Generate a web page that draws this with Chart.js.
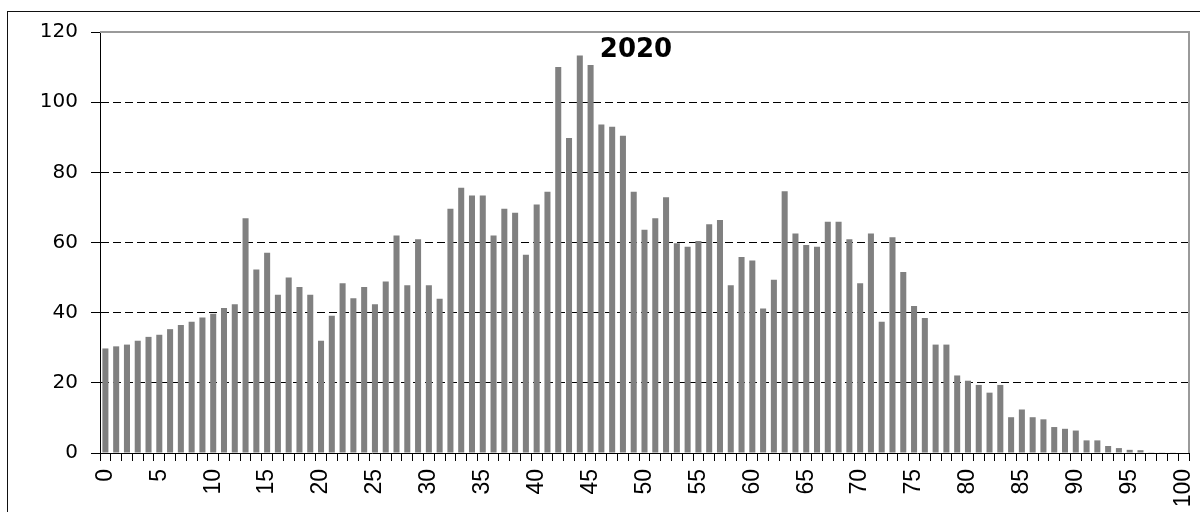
<!DOCTYPE html>
<html>
<head>
<meta charset="utf-8">
<script src="https://cdn.jsdelivr.net/npm/chart.js@4/dist/chart.umd.min.js"></script>
<style>
  html, body { margin:0; padding:0; background:#fff; }
  #wrap { position:relative; width:1200px; height:512px; overflow:hidden; }
  #frame { position:absolute; left:7px; top:11px; width:1300px; height:600px; border:1px solid #111; }
  #wrap canvas { position:absolute; left:0; top:0; }
</style>
</head>
<body>
<div id="wrap">
  <div id="frame"></div>
  <canvas id="barChart" width="1200" height="512"></canvas>
</div>
<script>
// ages 0..100
const ages = [];
for (let i = 0; i <= 100; i++) ages.push(String(i));

const values2020 = [
  29.8, 30.4, 30.9, 32.0, 33.1, 33.7, 35.3, 36.5, 37.4, 38.6,
  39.7, 41.3, 42.4, 66.9, 52.3, 57.1, 45.1, 50.0, 47.3, 45.1,
  32.0, 39.1, 48.4, 44.1, 47.3, 42.4, 48.9, 62.0, 47.8, 60.9,
  47.8, 44.0, 69.6, 75.6, 73.4, 73.4, 62.0, 69.6, 68.5, 56.5,
  70.8, 74.5, 110.0, 89.8, 113.3, 110.6, 93.6, 93.0, 90.4, 74.5,
  63.6, 66.9, 72.9, 59.8, 58.8, 60.4, 65.2, 66.4, 47.8, 55.9,
  54.9, 41.2, 49.4, 74.6, 62.6, 59.3, 58.8, 65.9, 65.9, 60.9,
  48.4, 62.6, 37.4, 61.5, 51.6, 41.9, 38.5, 30.9, 30.9, 22.1,
  20.6, 19.4, 17.2, 19.4, 10.2, 12.4, 10.2, 9.6, 7.4, 6.9,
  6.4, 3.6, 3.6, 2.0, 1.4, 0.9, 0.8, 0.2, 0.1, 0.1, 0
];

const yTicks = [0, 20, 40, 60, 80, 100, 120];
const chartTitle = '2020';

document.addEventListener('DOMContentLoaded', function(){

    // gray frame on top/right of plot + title inside the plot
    const plotDecor = {
        id: 'plotDecor',
        afterDraw(chart) {
            const a = chart.chartArea;
            const c = chart.ctx;
            c.save();
            c.strokeStyle = '#9a9a9a';
            c.lineWidth = 2;
            c.beginPath();
            c.moveTo(a.left, a.top);
            c.lineTo(a.right, a.top);
            c.lineTo(a.right, a.bottom);
            c.stroke();
            c.fillStyle = '#000';
            c.font = 'bold 26px "DejaVu Sans"';
            c.textAlign = 'center';
            c.textBaseline = 'alphabetic';
            c.fillText(chartTitle, a.left + 536, a.top + 25);
            c.restore();
        }
    };

    const ctx = document.getElementById('barChart').getContext('2d');
    new Chart(ctx, {
        type: 'bar',
        data: {
            labels: ages,
            datasets: [{
                label: chartTitle,
                data: values2020,
                backgroundColor: '#808080',
                borderWidth: 0,
                categoryPercentage: 1.0,
                barPercentage: 0.56
            }]
        },
        options: {
            responsive: false,
            animation: false,
            layout: { padding: { top: 32, right: 11, left: 0, bottom: 0 } },
            plugins: {
                legend: { display: false },
                tooltip: { enabled: false }
            },
            scales: {
                x: {
                    afterFit: s => { s.height = 59; s.paddingLeft = 0; s.paddingRight = 0; },
                    grid: {
                        drawOnChartArea: false,
                        tickLength: 8,
                        tickColor: '#000',
                        color: '#000'
                    },
                    border: { color: '#000', width: 1 },
                    ticks: {
                        autoSkip: false,
                        minRotation: 90,
                        maxRotation: 90,
                        padding: 8,
                        color: '#000',
                        font: { family: '"Liberation Sans", Arial', size: 23 },
                        callback: function(v, i) { return i % 5 === 0 ? ages[i] : ''; }
                    }
                },
                y: {
                    min: 0,
                    max: 120,
                    afterFit: s => { s.width = 100; },
                    afterBuildTicks: s => { s.ticks = yTicks.map(v => ({ value: v })); },
                    grid: {
                        color: c => (c.tick && (c.tick.value === 0 || c.tick.value === 120)) ? 'rgba(0,0,0,0)' : '#000',
                        tickColor: '#000',
                        tickLength: 9,
                        tickBorderDash: [],
                        lineWidth: 1
                    },
                    border: { color: '#000', width: 1, dash: [8, 4] },
                    ticks: {
                        padding: 13,
                        color: '#000',
                        font: { family: '"DejaVu Sans"', size: 20 }
                    }
                }
            }
        },
        plugins: [plotDecor]
    });
});
</script>
</body>
</html>
